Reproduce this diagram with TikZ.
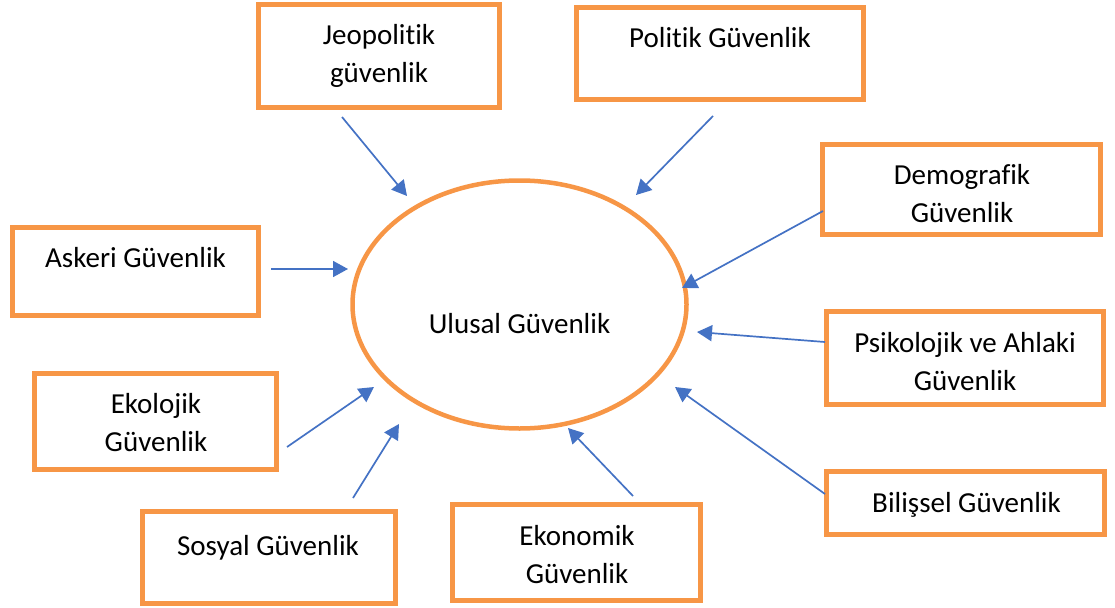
\documentclass[tikz,border=0pt]{standalone}
\usepackage{fontspec}
\setmainfont{Carlito}[Ligatures=NoCommon,RawFeature={-liga;-clig;-dlig}]
\usetikzlibrary{arrows.meta}
\definecolor{boxorange}{RGB}{247,150,70}
\definecolor{arrowblue}{RGB}{68,114,196}
\begin{document}
\begin{tikzpicture}[x=1pt,y=-1pt,
  box/.style={draw=boxorange,line width=4.5pt,inner sep=0pt,rectangle},
  lbl/.style={font=\fontsize{29}{38}\selectfont,align=center,inner sep=0pt,text=black},
  arr/.style={draw=arrowblue,line width=1.7pt,-{Triangle[length=15pt,width=16pt]}}]
\useasboundingbox (0,0) rectangle (1115,607);
% boxes
\node[box,minimum width=241pt,minimum height=103pt] (jeo) at (379,56) {};
\node[box,minimum width=287pt,minimum height=92pt] (pol) at (720,53.5) {};
\node[box,minimum width=278pt,minimum height=90pt] (dem) at (961.5,189.5) {};
\node[box,minimum width=246pt,minimum height=88pt] (ask) at (135.5,271.5) {};
\node[box,minimum width=277pt,minimum height=93pt] (psi) at (965,358) {};
\node[box,minimum width=242pt,minimum height=96pt] (eko) at (155.5,421.5) {};
\node[box,minimum width=278pt,minimum height=63pt] (bil) at (965.5,503) {};
\node[box,minimum width=253pt,minimum height=92pt] (sos) at (269,557.5) {};
\node[box,minimum width=248pt,minimum height=96pt] (ekn) at (576.5,552.5) {};
% centre ellipse
\draw[draw=boxorange,line width=4.5pt] (519.5,304.5) ellipse [x radius=167pt,y radius=124pt];
\node[lbl] (ulu) at (519.5,325.4) {\strut Ulusal Güvenlik};
% labels
\node[lbl] (jeoT) at (379,56.4) {\strut Jeopolitik\\\strut güvenlik};
\node[lbl] (polT) at (720,40.4) {\strut Politik Güvenlik};
\node[lbl] (demT) at (962,195.4) {\strut Demografik\\\strut Güvenlik};
\node[lbl] (askT) at (135.5,259.4) {\strut Askeri Güvenlik};
\node[lbl] (psiT) at (965,363.9) {\strut Psikolojik ve Ahlaki\\\strut Güvenlik};
\node[lbl] (ekoT) at (156,424.9) {\strut Ekolojik\\\strut Güvenlik};
\node[lbl] (bilT) at (966.5,504.4) {\strut Bilişsel Güvenlik};
\node[lbl] (sosT) at (268,547.4) {\strut Sosyal Güvenlik};
\node[lbl] (eknT) at (577,556.4) {\strut Ekonomik\\\strut Güvenlik};
% arrow end points
\coordinate (jeoS) at (342,117); \coordinate (jeoE) at (407,196);
\coordinate (polS) at (713,116); \coordinate (polE) at (636,195);
\coordinate (demS) at (823,211); \coordinate (demE) at (682,288);
\coordinate (askS) at (271,269); \coordinate (askE) at (348,269);
\coordinate (psiS) at (825,342); \coordinate (psiE) at (697,332);
\coordinate (ekoS) at (287,447); \coordinate (ekoE) at (374,387);
\coordinate (bilS) at (825,494); \coordinate (bilE) at (675,387);
\coordinate (sosS) at (353,498); \coordinate (sosE) at (399,424);
\coordinate (eknS) at (633,496); \coordinate (eknE) at (568,428);
\draw[arr] (jeoS) -- (jeoE);
\draw[arr] (polS) -- (polE);
\draw[arr] (demS) -- (demE);
\draw[arr] (askS) -- (askE);
\draw[arr] (psiS) -- (psiE);
\draw[arr] (ekoS) -- (ekoE);
\draw[arr] (bilS) -- (bilE);
\draw[arr] (sosS) -- (sosE);
\draw[arr] (eknS) -- (eknE);
\end{tikzpicture}
\end{document}
